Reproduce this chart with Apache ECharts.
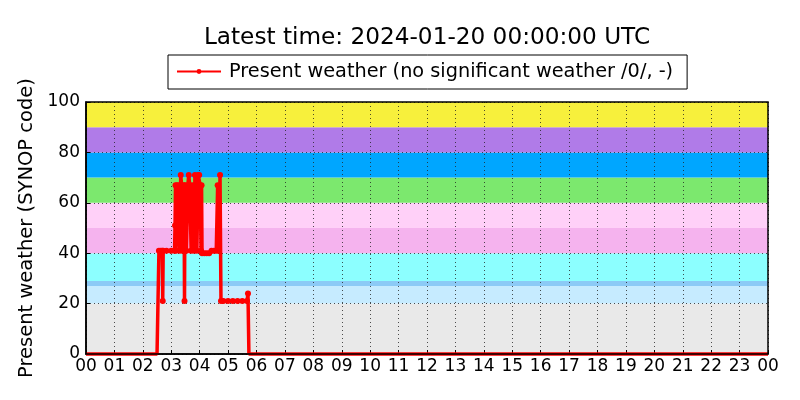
<!DOCTYPE html>
<html>
<head>
<meta charset="utf-8">
<script src="https://cdn.jsdelivr.net/npm/echarts@6/dist/echarts.min.js"></script>
<style>html,body{margin:0;padding:0;background:#fff}#c{width:800px;height:400px}</style>
</head>
<body>
<div id="c"></div>
<script>
// ---- data ----
var titleText = "Latest time: 2024-01-20 00:00:00 UTC";
var seriesName = "Present weather (no significant weather /0/, -)";
var yAxisName = "Present weather (SYNOP code)";
var obsTimes = ["00:00","00:30","01:00","01:30","02:00","02:30","02:33","02:34","02:38","02:41","02:42","02:43","02:50","03:00","03:07","03:08","03:09","03:10","03:12","03:15","03:18","03:20","03:22","03:24","03:27","03:28","03:29","03:32","03:35","03:37","03:39","03:42","03:45","03:48","03:50","03:52","03:54","03:57","03:59","04:01","04:03","04:04","04:05","04:10","04:15","04:20","04:25","04:30","04:35","04:38","04:40","04:43","04:45","04:50","05:00","05:10","05:20","05:30","05:40","05:42","05:44","06:00","08:00","10:00","12:00","14:00","16:00","18:00","20:00","22:00","24:00"];
var obsValues = [0,0,0,0,0,0,0,41,41,41,21,41,41,41,41,51,67,41,67,67,41,71,67,41,67,21,67,41,67,71,67,41,67,41,71,67,41,71,71,67,41,67,40,40,40,40,41,41,41,67,41,71,21,21,21,21,21,21,21,24,0,0,0,0,0,0,0,0,0,0,0];
var hourLabels = ["00","01","02","03","04","05","06","07","08","09","10","11","12","13","14","15","16","17","18","19","20","21","22","23","00"];
var yTicks = [0,20,40,60,80,100];
var bandLows =   [0, 20, 27, 29, 40, 50, 60, 70, 80, 90];
var bandHighs =  [20, 27, 29, 40, 50, 60, 70, 80, 90, 100];
var bandColors = ["#e9e9e9","#c6ebff","#8ccaf6","#8cffff","#f5b3ee","#ffd0f8","#7ce86e","#00a6ff","#b07be8","#f7f03c"];

// ---- build ----
function toHours(t){var p=t.split(":");return (+p[0])+(+p[1])/60;}
var lineData = obsTimes.map(function(t,i){return [toHours(t), obsValues[i]];});
var areas = bandLows.map(function(lo,i){
  return [{yAxis: lo, itemStyle:{color: bandColors[i], opacity:1}}, {yAxis: bandHighs[i]}];
});
var font = "DejaVu Sans";
var chart = echarts.init(document.getElementById('c'), null, {renderer:'canvas'});
chart.setOption({
  animation:false,
  backgroundColor:'#fff',
  title:{text:titleText,left:422,top:21,textAlign:'center',
    textStyle:{fontFamily:font,fontSize:23.2,fontWeight:'normal',color:'#000'}},
  legend:{data:[seriesName],left:168,top:55,padding:[7,14,8,8],itemWidth:44,itemHeight:6,itemGap:10,
    borderColor:'#000',borderWidth:1,borderRadius:0,backgroundColor:'#fff',
    textStyle:{fontFamily:font,fontSize:19.3,color:'#000',padding:[0,0,0,3]}},
  grid:{left:86,right:32,top:102,bottom:46,show:true,borderColor:'#000',borderWidth:1.5,backgroundColor:'transparent',z:10},
  xAxis:{type:'value',min:0,max:24,interval:1,z:5,
    axisLine:{show:true,lineStyle:{color:'#000',width:1.5}},
    axisTick:{show:true,inside:true,length:4,lineStyle:{color:'#000'}},
    axisLabel:{fontFamily:font,fontSize:17,color:'#000',margin:4,
      formatter:function(v){return hourLabels[Math.round(v)];}},
    splitLine:{show:true,lineStyle:{color:'#222',width:0.8,type:[1,3]}}},
  yAxis:{type:'value',min:0,max:100,interval:20,z:5,
    name:yAxisName,nameLocation:'middle',nameGap:46,
    nameTextStyle:{fontFamily:font,fontSize:19.5,color:'#000'},
    axisLine:{show:true,lineStyle:{color:'#000',width:1.5}},
    axisTick:{show:true,inside:true,length:4,lineStyle:{color:'#000'}},
    axisLabel:{fontFamily:font,fontSize:17,color:'#000',margin:6,
      formatter:function(v){return yTicks.indexOf(v)>=0?String(v):'';}},
    splitLine:{show:true,lineStyle:{color:'#222',width:0.8,type:[1,3]}}},
  series:[
    {type:'line',data:[],z:1,silent:true,markArea:{silent:true,data:areas}},
    {name:seriesName,type:'line',data:lineData,z:8,clip:false,
      symbol:'circle',showAllSymbol:true,
      symbolSize:function(v){return v[1]===0?0:6;},
      lineStyle:{color:'#ff0000',width:3.5},itemStyle:{color:'#ff0000'}}
  ]
});
</script>
</body>
</html>
